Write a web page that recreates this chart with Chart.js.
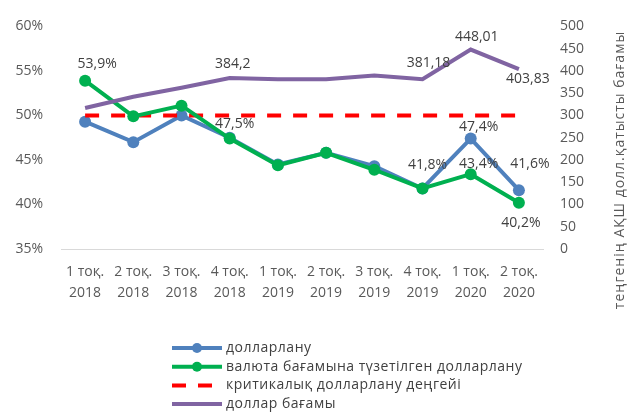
<!DOCTYPE html>
<html><head><meta charset="utf-8">
<script src="https://cdn.jsdelivr.net/npm/chart.js@4/dist/chart.umd.min.js"></script>
<style>html,body{margin:0;padding:0;background:#fff;overflow:hidden}#wrap{width:633px;height:414px;position:relative}</style>
</head><body><div id="wrap"><canvas id="c" width="633" height="414" style="width:633px;height:414px"></canvas></div>
<script>
// ---- data ----
const categories = [["1 тоқ.","2018"],["2 тоқ.","2018"],["3 тоқ.","2018"],["4 тоқ.","2018"],["1 тоқ.","2019"],["2 тоқ.","2019"],["3 тоқ.","2019"],["4 тоқ.","2019"],["1 тоқ.","2020"],["2 тоқ.","2020"]];
const dollarization = [49.3, 47.0, 50.0, 47.5, 44.5, 45.8, 44.3, 41.8, 47.4, 41.6];
const adjustedDollarization = [53.9, 49.9, 51.1, 47.4, 44.4, 45.8, 43.9, 41.8, 43.4, 40.2];
const criticalLevel = [50, 50, 50, 50, 50, 50, 50, 50, 50, 50];
const exchangeRate = [316.7, 342.0, 362.0, 384.2, 381.5, 381.3, 389.5, 381.18, 448.01, 403.83];
const seriesNames = ["долларлану", "валюта бағамына түзетілген долларлану", "критикалық долларлану деңгейі", "доллар бағамы"];
const leftTicks = [35, 40, 45, 50, 55, 60];
const rightTicks = [0, 50, 100, 150, 200, 250, 300, 350, 400, 450, 500];
const rightAxisTitle = "теңгенің АҚШ долл.қатысты бағамы";
// labelled points: [series index, point index, dx, dy]
const labelled = [
  [1, 0, 12, -17], [0, 3, 5, -14], [3, 3, 3, -14], [3, 7, 6, -16], [3, 8, 6, -13], [3, 9, 9, 10],
  [0, 8, 8, -12], [1, 8, 8, -10], [0, 9, 11, -26], [1, 7, 5, -23], [1, 9, 2, 20]
];

const FONT = "'Open Sans', 'Noto Sans', sans-serif";
const BLUE = '#4f81bd', GREEN = '#00b050', RED = '#ff0000', PURPLE = '#8064a2';
const TICK_COLOR = '#595959', TEXT_COLOR = '#404040';

function fmt(v, pct) { return String(v).replace('.', ',') + (pct ? '%' : ''); }

const labelPlugin = {
  id: 'pointLabels',
  afterDatasetsDraw(chart) {
    const ctx = chart.ctx;
    ctx.save();
    ctx.font = '14px ' + FONT;
    ctx.fillStyle = TEXT_COLOR;
    ctx.textAlign = 'center';
    ctx.textBaseline = 'middle';
    labelled.forEach(([ds, i, dx, dy]) => {
      const el = chart.getDatasetMeta(ds).data[i];
      const v = chart.data.datasets[ds].data[i];
      ctx.fillText(fmt(v, ds !== 3), el.x + dx, el.y + dy);
    });
    ctx.restore();
  }
};

const extrasPlugin = {
  id: 'extras',
  afterDraw(chart) {
    const ctx = chart.ctx;
    ctx.save();
    ctx.font = '14px ' + FONT;
    ctx.fillStyle = TICK_COLOR;
    ctx.textAlign = 'center';
    ctx.textBaseline = 'middle';
    ctx.translate(620, 170);
    ctx.rotate(-Math.PI / 2);
    ctx.letterSpacing = '1px';
    ctx.fillText(rightAxisTitle, 0, 0);
    ctx.restore();

    ctx.save();
    ctx.font = '14px ' + FONT;
    ctx.textBaseline = 'middle';
    ctx.textAlign = 'left';
    ctx.letterSpacing = '0.5px';
    chart.data.datasets.forEach((ds, k) => {
      const y = 348 + k * 18.7;
      ctx.strokeStyle = ds.borderColor;
      ctx.lineWidth = 4;
      ctx.setLineDash(ds.borderDash || []);
      ctx.lineCap = 'butt';
      ctx.beginPath();
      ctx.moveTo(172, y); ctx.lineTo(222, y);
      ctx.stroke();
      ctx.setLineDash([]);
      if (ds.pointRadius > 0) {
        ctx.fillStyle = ds.borderColor;
        ctx.beginPath(); ctx.arc(197, y, 5, 0, Math.PI * 2); ctx.fill();
      }
      ctx.fillStyle = TEXT_COLOR;
      ctx.fillText(ds.label, 226, y);
    });
    ctx.restore();
  }
};

new Chart(document.getElementById('c'), {
  type: 'line',
  data: {
    labels: categories,
    datasets: [
      { label: seriesNames[0], data: dollarization, yAxisID: 'y', borderColor: BLUE, backgroundColor: BLUE, borderWidth: 4, pointRadius: 6, pointHoverRadius: 6, pointBorderWidth: 0, order: 4, tension: 0 },
      { label: seriesNames[1], data: adjustedDollarization, yAxisID: 'y', borderColor: GREEN, backgroundColor: GREEN, borderWidth: 4, pointRadius: 6, pointHoverRadius: 6, pointBorderWidth: 0, order: 2, tension: 0 },
      { label: seriesNames[2], data: criticalLevel, yAxisID: 'y', borderColor: RED, backgroundColor: RED, borderWidth: 4, borderDash: [14, 12], pointRadius: 0, order: 3 },
      { label: seriesNames[3], data: exchangeRate, yAxisID: 'y1', borderColor: PURPLE, backgroundColor: PURPLE, borderWidth: 4, pointRadius: 0, order: 1, tension: 0 }
    ]
  },
  options: {
    responsive: false,
    animation: false,
    devicePixelRatio: 1,
    layout: { autoPadding: false, padding: { top: 18, left: 0, right: 0, bottom: 0 } },
    plugins: { legend: { display: false }, tooltip: { enabled: false } },
    scales: {
      x: {
        offset: true,
        grid: { display: false, drawTicks: false },
        border: { display: true, color: '#d9d9d9', width: 1 },
        ticks: { color: TICK_COLOR, font: { family: FONT, size: 14, lineHeight: 1.5 }, padding: 13, maxRotation: 0, autoSkip: false },
        afterFit(s) { s.height = 165; }
      },
      y: {
        position: 'left', min: 35, max: 60,
        afterBuildTicks(s) { s.ticks = leftTicks.map(v => ({ value: v })); },
        ticks: { color: TICK_COLOR, font: { family: FONT, size: 14 }, padding: 18, callback: v => v + '%' },
        grid: { display: false, drawTicks: false },
        border: { display: false },
        afterFit(s) { s.width = 61; }
      },
      y1: {
        position: 'right', min: 0, max: 500,
        afterBuildTicks(s) { s.ticks = rightTicks.map(v => ({ value: v })); },
        ticks: { color: TICK_COLOR, font: { family: FONT, size: 14 }, padding: 17 },
        grid: { display: false, drawTicks: false },
        border: { display: false },
        afterFit(s) { s.width = 90; }
      }
    }
  },
  plugins: [labelPlugin, extrasPlugin]
});
</script>
</body></html>
